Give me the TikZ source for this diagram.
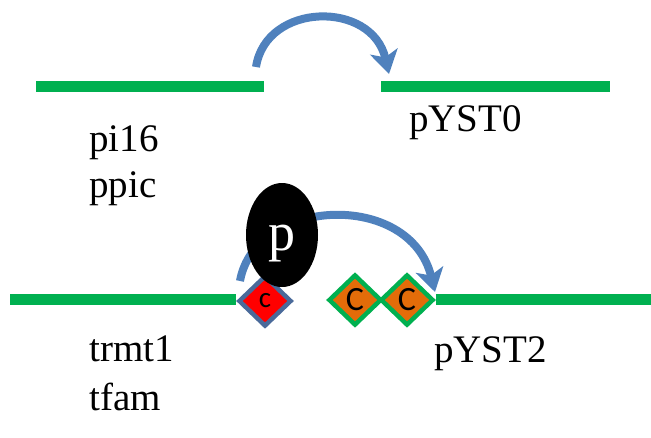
\documentclass[tikz,border=0pt]{standalone}
\usepackage{fontspec}
\setmainfont{Liberation Serif}
\newfontfamily\calib{Carlito}
\usetikzlibrary{arrows.meta,shapes.geometric}
\pgfdeclarelayer{bg}
\pgfsetlayers{bg,main}
\definecolor{gr}{HTML}{00B050}
\definecolor{bl}{HTML}{4F81BD}
\definecolor{org}{HTML}{E36C09}
\definecolor{dblue}{HTML}{4A6A9A}
\tikzset{
 gline/.style={draw=gr,line width=11pt},
 bluearc/.style={draw=bl,line width=8pt,-{Stealth[length=23pt,width=28pt,inset=6pt]}},
 lbl/.style={anchor=base west,inner sep=0pt,font=\fontsize{39}{46}\selectfont},
 dia/.style={diamond,minimum width=53pt,minimum height=51pt,inner sep=0pt,line width=4.5pt,font=\calib\fontsize{34}{34}\selectfont},
}
\begin{document}
\begin{tikzpicture}[x=1pt,y=-1pt]
\useasboundingbox (0,0) rectangle (651,437);
% top lines
\coordinate (a1) at (36,86); \coordinate (a2) at (264,86);
\coordinate (b1) at (381,86); \coordinate (b2) at (610,86);
\draw[gline] (a1) -- (a2);
\draw[gline] (b1) -- (b2);
% top arc
\coordinate (t1) at (256,67); \coordinate (t2) at (389,74);
\draw[bluearc] (t1) .. controls (266,2) and (372,0) .. (t2);
% labels
\node[lbl] (pi16) at (89,151) {pi16};
\node[lbl] (ppic) at (89,197) {ppic};
\node[lbl] (pyst0) at (409,131) {pYST0};
\node[lbl] (trmt1) at (89,361) {trmt1};
\node[lbl] (tfam) at (89,410) {tfam};
\node[lbl] (pyst2) at (434,362) {pYST2};
% lower line and diamonds
\coordinate (l1) at (10,299); \coordinate (l2) at (651,299);
\node[dia,draw=dblue,fill=red,font=\calib\fontsize{29}{29}\selectfont] (rc) at (265,301) {c};
\node[dia,draw=gr,fill=org] (oc1) at (355,300) {C};
\node[dia,draw=gr,fill=org] (oc2) at (407,300) {C};
\begin{pgfonlayer}{bg}
\draw[gline] (l1) -- (rc.west |- l1);
\draw[gline] (oc2.east |- l2) -- (l2);
\end{pgfonlayer}
% lower arc
\coordinate (c1) at (240,281); \coordinate (c2) at (435,292);
\draw[bluearc] (c1) .. controls (255,197) and (410,190) .. (c2);
% ellipse p
\node[ellipse,fill=black,minimum width=72pt,minimum height=104pt,inner sep=0pt] (pe) at (282,235) {};
\node[text=white,inner sep=0pt,font=\fontsize{54}{54}\selectfont] (plab) at (282,244) {p};
\end{tikzpicture}
\end{document}
